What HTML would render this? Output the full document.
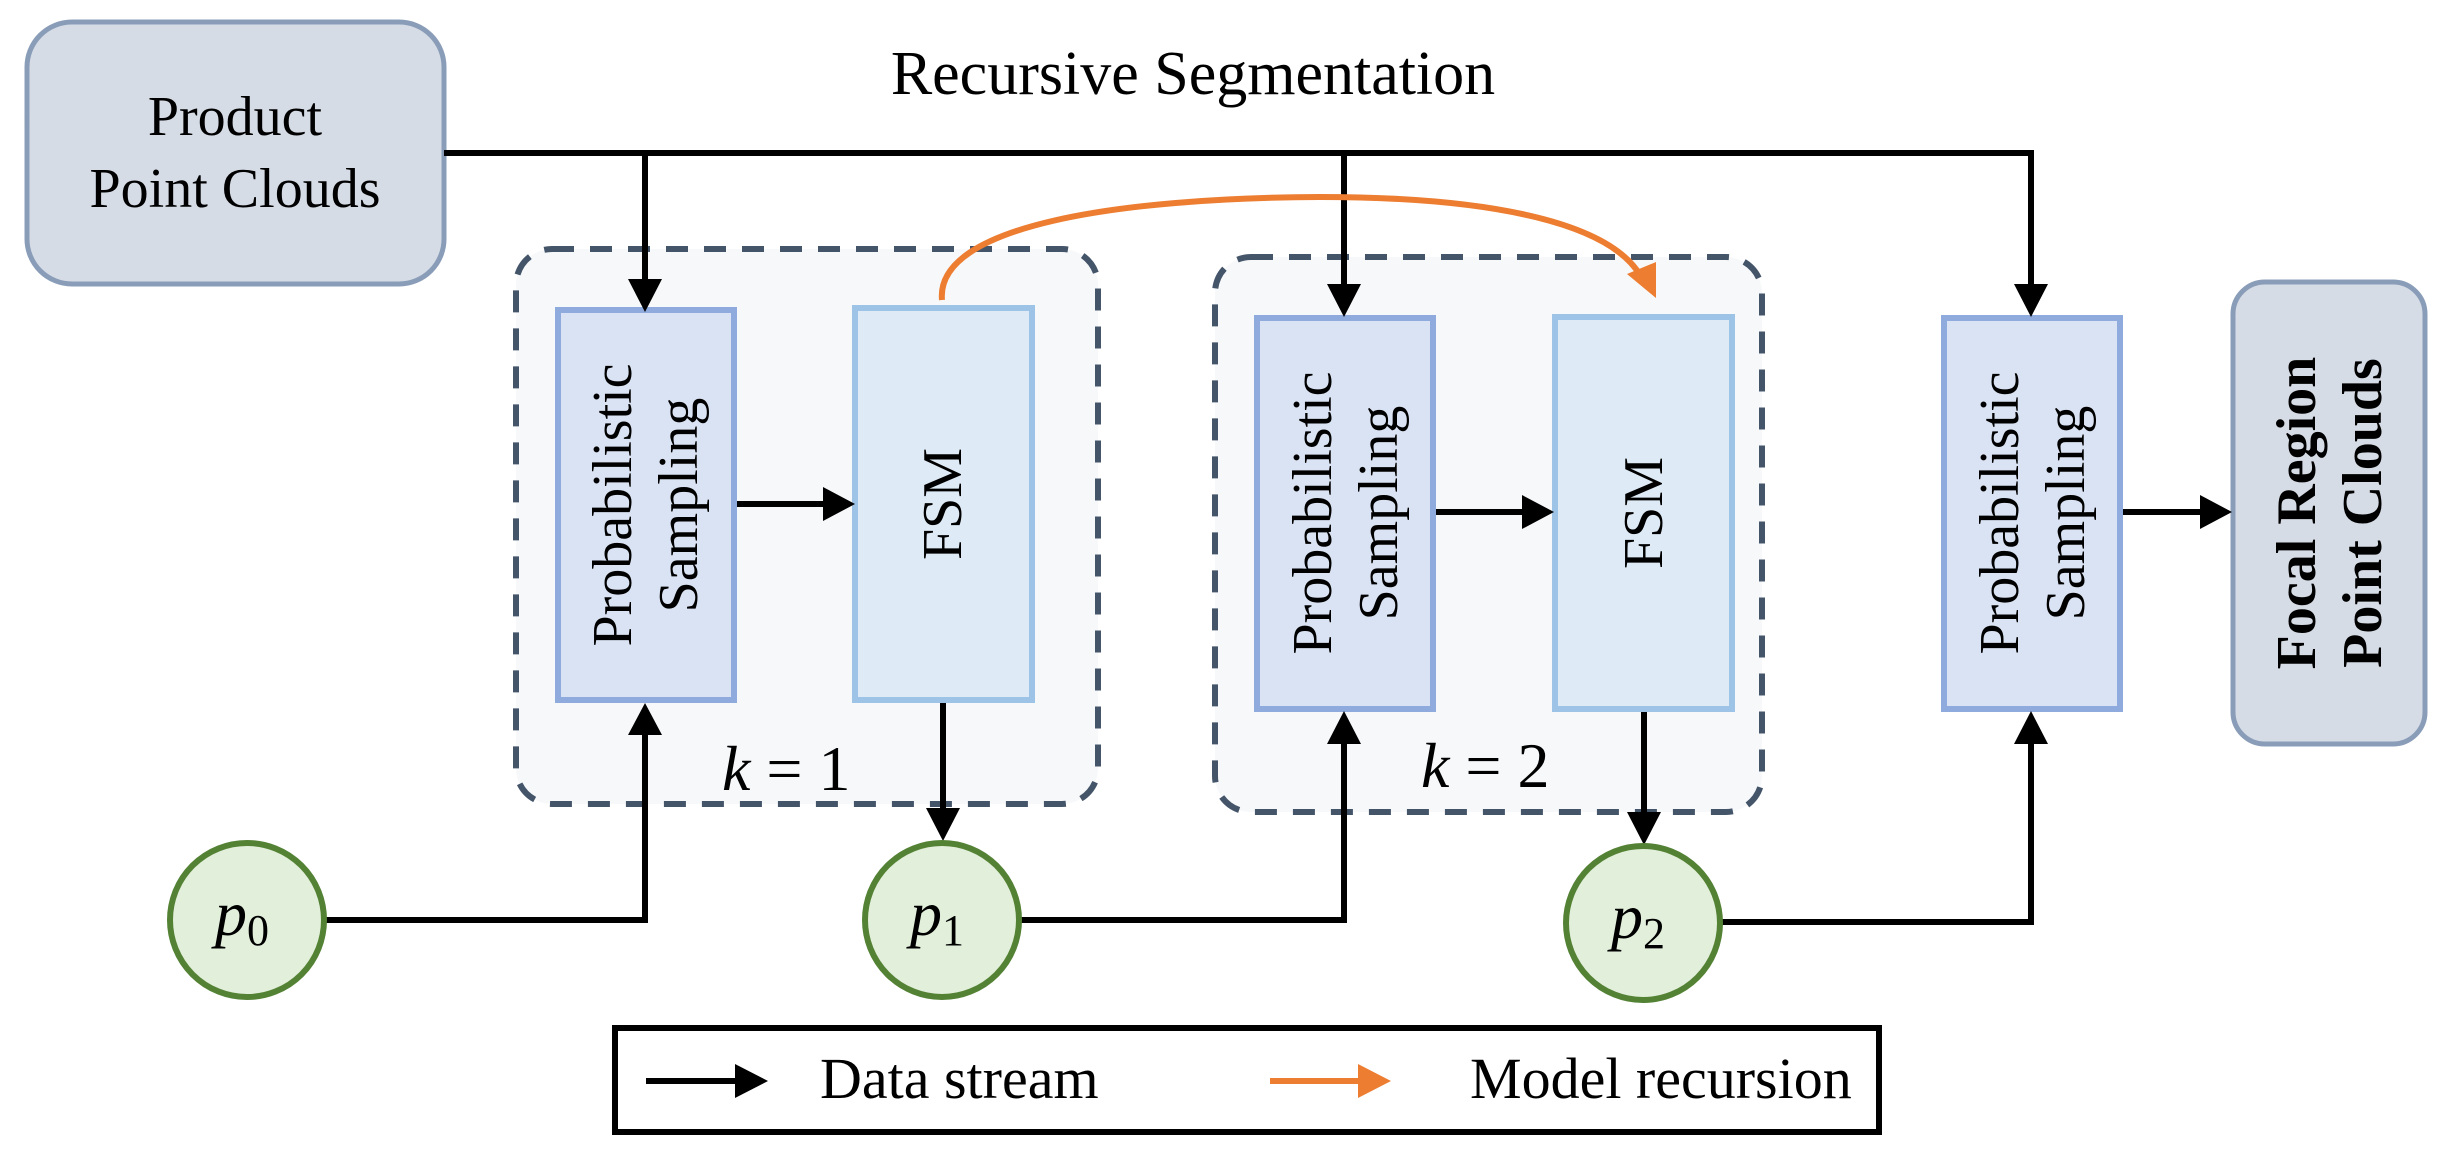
<!DOCTYPE html>
<html><head><meta charset="utf-8"><style>
html,body{margin:0;padding:0;background:#fff;}
svg{display:block;}
svg text{font-family:"Liberation Serif","Times New Roman","DejaVu Serif",serif;fill:#000;}
</style></head><body>
<svg width="2454" height="1157" viewBox="0 0 2454 1157" xmlns="http://www.w3.org/2000/svg" font-family="Liberation Serif, Times New Roman, DejaVu Serif, serif">
<!-- Product box -->
<rect x="27" y="22" width="417" height="262" rx="45" fill="#d6dce6" stroke="#8a9db8" stroke-width="5"/>
<text x="235" y="135" font-size="56" text-anchor="middle">Product</text>
<text x="235" y="207" font-size="56" text-anchor="middle">Point Clouds</text>
<!-- Title -->
<text x="1193" y="94" font-size="62" text-anchor="middle">Recursive Segmentation</text>
<!-- dashed containers -->
<rect x="516" y="249" width="582" height="555" rx="36" fill="#f6f8fa" stroke="#445469" stroke-width="6" stroke-dasharray="22,16"/>
<rect x="1215" y="257" width="547" height="555" rx="36" fill="#f6f8fa" stroke="#445469" stroke-width="6" stroke-dasharray="22,16"/>
<!-- Prob boxes -->
<rect x="558" y="310" width="176" height="390" fill="#dae3f3" stroke="#8faadc" stroke-width="6"/>
<rect x="1257" y="318" width="176" height="391" fill="#dae3f3" stroke="#8faadc" stroke-width="6"/>
<rect x="1944" y="318" width="176" height="391" fill="#dae3f3" stroke="#8faadc" stroke-width="6"/>
<!-- FSM boxes -->
<rect x="855" y="308" width="177" height="392" fill="#deebf7" stroke="#9dc3e6" stroke-width="6"/>
<rect x="1555" y="317" width="177" height="392" fill="#deebf7" stroke="#9dc3e6" stroke-width="6"/>
<!-- Focal box -->
<rect x="2233" y="282" width="192" height="462" rx="32" fill="#d6dce6" stroke="#8a9db8" stroke-width="5"/>
<!-- vertical texts -->
<g font-size="56">
<text transform="translate(645,505) rotate(-90)" text-anchor="middle"><tspan x="0" y="-14">Probabilistic</tspan><tspan x="0" y="52">Sampling</tspan></text>
<text transform="translate(1345,513) rotate(-90)" text-anchor="middle"><tspan x="0" y="-14">Probabilistic</tspan><tspan x="0" y="52">Sampling</tspan></text>
<text transform="translate(2032,513) rotate(-90)" text-anchor="middle"><tspan x="0" y="-14">Probabilistic</tspan><tspan x="0" y="52">Sampling</tspan></text>
<text transform="translate(943,504) rotate(-90)" text-anchor="middle" y="18">FSM</text>
<text transform="translate(1644,513) rotate(-90)" text-anchor="middle" y="18">FSM</text>
<text transform="translate(2329,513) rotate(-90)" text-anchor="middle" font-weight="bold"><tspan x="0" y="-14">Focal Region</tspan><tspan x="0" y="52">Point Clouds</tspan></text>
</g>
<!-- k labels -->
<text x="722" y="790" font-size="64"><tspan font-style="italic">k</tspan> = 1</text>
<text x="1421" y="787" font-size="64"><tspan font-style="italic">k</tspan> = 2</text>
<!-- black lines -->
<g stroke="#000" stroke-width="6" fill="none">
<polyline points="444,153 2031,153 2031,290"/>
<line x1="645" y1="153" x2="645" y2="282"/>
<line x1="1344" y1="153" x2="1344" y2="290"/>
<line x1="737" y1="504" x2="826" y2="504"/>
<line x1="1436" y1="512" x2="1526" y2="512"/>
<line x1="2123" y1="512" x2="2204" y2="512"/>
<line x1="943" y1="703" x2="943" y2="812"/>
<line x1="1644" y1="712" x2="1644" y2="816"/>
<polyline points="325,920 645,920 645,732"/>
<polyline points="1021,920 1344,920 1344,740"/>
<polyline points="1721,922 2031,922 2031,740"/>
<line x1="646" y1="1081" x2="740" y2="1081"/>
</g>
<g fill="#000">
<polygon points="628,279 662,279 645,312"/>
<polygon points="1327,284 1361,284 1344,317"/>
<polygon points="2014,284 2048,284 2031,317"/>
<polygon points="823,487 855,504 823,521"/>
<polygon points="1522,495 1554,512 1522,529"/>
<polygon points="2200,495 2232,512 2200,529"/>
<polygon points="926,808 960,808 943,841"/>
<polygon points="1627,812 1661,812 1644,845"/>
<polygon points="628,735 662,735 645,703"/>
<polygon points="1327,744 1361,744 1344,711"/>
<polygon points="2014,744 2048,744 2031,711"/>
<polygon points="735,1064 768,1081 735,1098"/>
</g>
<!-- orange curve -->
<path d="M942,300 C935,225 1120,198 1320,197 C1500,197 1610,225 1640,275" stroke="#ed7d31" stroke-width="6" fill="none"/>
<polygon points="1627,274 1656,262 1656,298" fill="#ed7d31"/>
<!-- circles -->
<g fill="#e2efda" stroke="#548235" stroke-width="6">
<circle cx="247" cy="920" r="77"/>
<circle cx="942" cy="920" r="77"/>
<circle cx="1643" cy="923" r="77"/>
</g>
<g font-size="64" text-anchor="middle">
<text x="242" y="935"><tspan font-style="italic">p</tspan><tspan font-size="44" dy="10">0</tspan></text>
<text x="937" y="935"><tspan font-style="italic">p</tspan><tspan font-size="44" dy="10">1</tspan></text>
<text x="1638" y="938"><tspan font-style="italic">p</tspan><tspan font-size="44" dy="10">2</tspan></text>
</g>
<!-- legend -->
<rect x="615" y="1028" width="1264" height="104" fill="none" stroke="#000" stroke-width="6"/>
<text x="820" y="1098" font-size="58">Data stream</text>
<line x1="1270" y1="1081" x2="1360" y2="1081" stroke="#ed7d31" stroke-width="6"/>
<polygon points="1358,1064 1391,1081 1358,1098" fill="#ed7d31"/>
<text x="1470" y="1098" font-size="58">Model recursion</text>
</svg>
</body></html>
